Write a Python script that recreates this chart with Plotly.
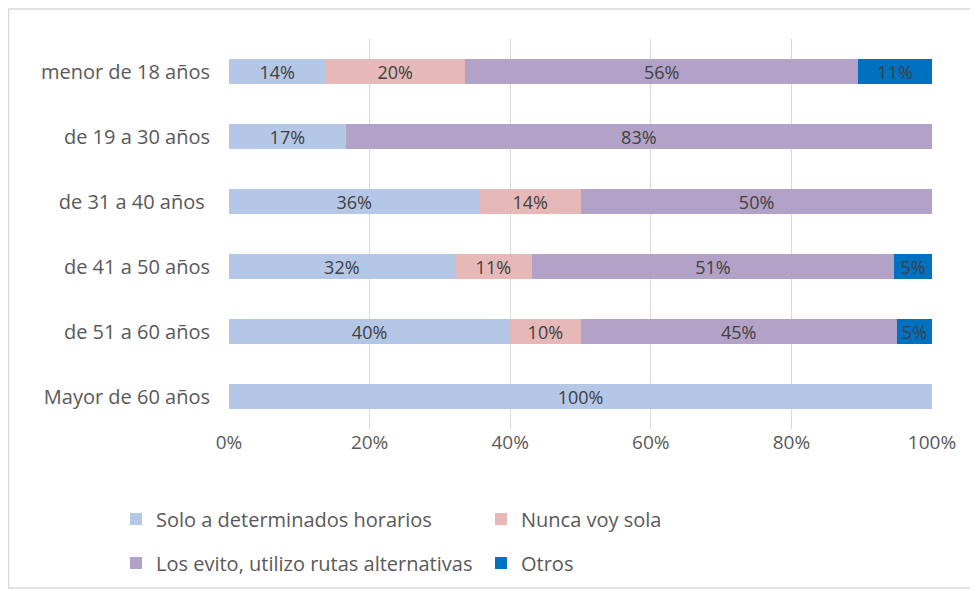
import plotly.graph_objects as go

categories = ["menor de 18 años", "de 19 a 30 años", "de 31 a 40 años ", "de 41 a 50 años",
              "de 51 a 60 años", "Mayor de 60 años"]
series_names = ["Solo a determinados horarios", "Nunca voy sola",
                "Los evito, utilizo rutas alternativas", "Otros"]
solo = [13.7, 16.6, 35.6, 32.1, 40.0, 100.0]
nunca = [19.9, 0, 14.5, 11.0, 10.0, 0]
evito = [55.9, 83.4, 49.9, 51.5, 45.0, 0]
otros = [10.5, 0, 0, 5.4, 5.0, 0]
solo_txt = ["14%", "17%", "36%", "32%", "40%", "100%"]
nunca_txt = ["20%", "", "14%", "11%", "10%", ""]
evito_txt = ["56%", "83%", "50%", "51%", "45%", ""]
otros_txt = ["11%", "", "", "5%", "5%", ""]
tick_vals = [0, 20, 40, 60, 80, 100]
tick_text = ["0%", "20%", "40%", "60%", "80%", "100%"]

colors = ["#B4C7E7", "#E6B9B8", "#B3A2C7", "#0070C0"]
vals = [solo, nunca, evito, otros]
txts = [solo_txt, nunca_txt, evito_txt, otros_txt]
legends = ["legend", "legend", "legend2", "legend2"]

FONT = "Open Sans"
fig = go.Figure()
for name, v, t, c, lg in zip(series_names, vals, txts, colors, legends):
    fig.add_trace(go.Bar(
        y=categories, x=v, name=name, orientation="h", marker_color=c,
        marker_line_width=0, text=t, textposition="inside", insidetextanchor="middle",
        textangle=0, constraintext="none",
        textfont=dict(family=FONT, size=18, color="#404040"),
        cliponaxis=False, legend=lg, hoverinfo="skip"))

# page body offsets the figure by 8px; coordinates below are in screen pixels
OFF = 8
W, H = 978, 591
L = 229 - OFF
T = 39 - OFF
pw = 703
ph = 429 - 39
R = W - L - pw
B = H - T - ph


def px(x):
    return (x - OFF - L) / pw


def py(y):
    return (T + ph - (y - OFF)) / ph


fig.update_layout(
    width=W, height=H, barmode="stack", bargap=0.62,
    margin=dict(l=L, r=R, t=T, b=B),
    paper_bgcolor="white", plot_bgcolor="white",
    font=dict(family=FONT, color="#404040"),
    xaxis=dict(range=[0, 100], tickvals=tick_vals, ticktext=tick_text,
               showgrid=True, gridcolor="#D9D9D9", gridwidth=1, zeroline=False,
               showline=False, ticks="", ticklabelstandoff=0,
               tickfont=dict(size=19, color="#595959"), fixedrange=True),
    yaxis=dict(autorange="reversed", showgrid=False, showline=False, ticks="",
               ticklabelstandoff=18, tickfont=dict(size=20, color="#595959"),
               fixedrange=True),
    legend=dict(orientation="h", x=px(116), y=py(519), xanchor="left", yanchor="middle",
                entrywidth=320, font=dict(size=20, color="#595959"), traceorder="normal",
                bgcolor="rgba(0,0,0,0)"),
    legend2=dict(orientation="h", x=px(116), y=py(563), xanchor="left", yanchor="middle",
                 entrywidth=320, font=dict(size=20, color="#595959"), traceorder="normal",
                 bgcolor="rgba(0,0,0,0)"),
    shapes=[dict(type="rect", xref="paper", yref="paper",
                 x0=px(8.5), x1=px(973), y0=py(588), y1=py(9),
                 line=dict(color="#D9D9D9", width=1.5), fillcolor="rgba(0,0,0,0)",
                 layer="below")],
)
fig.write_html("out.html")
